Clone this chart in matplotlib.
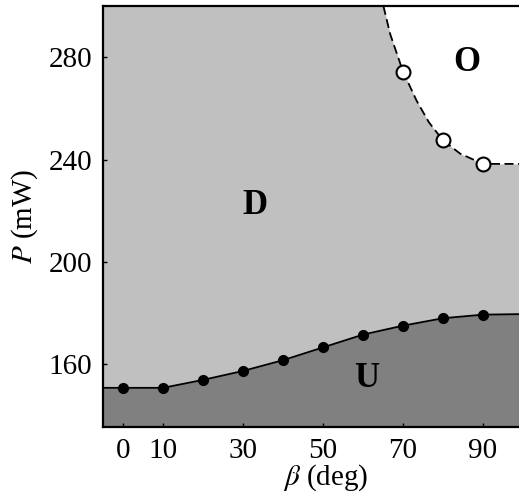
import matplotlib
matplotlib.use("Agg")
import matplotlib.pyplot as plt
import numpy as np

plt.rcParams['font.family'] = ['Liberation Serif', 'DejaVu Serif']
plt.rcParams['mathtext.fontset'] = 'stix'

# Unstable (U) threshold: filled markers
u_beta = [0, 10, 20, 30, 40, 50, 60, 70, 80, 90]
u_P = [150.8, 150.8, 153.9, 157.4, 161.6, 166.6, 171.6, 175.1, 178.0, 179.4]

# Oscillating (O) threshold: open markers
o_beta = [70, 80, 90]
o_P = [274.4, 247.5, 238.3]

# O/D boundary curve
ob_beta = [65.1, 66.8, 70.0, 73.4, 76.5, 80.0, 84.3, 90.0, 99.0]
ob_P = [300.0, 289.0, 274.4, 263.0, 254.5, 247.5, 242.3, 238.3, 238.3]

xticks = [0, 10, 30, 50, 70, 90]
yticks = [160, 200, 240, 280]
xlim = (-5, 99)
ylim = (135.5, 300)

c_D = '#c0c0c0'
c_U = '#808080'

fig = plt.figure(figsize=(5.19, 4.95), dpi=100)
ax = fig.add_axes([103/519, 1-427/495, 1-103/519, (427-6)/495])
ax.set_xlim(*xlim)
ax.set_ylim(*ylim)

ax.set_facecolor(c_D)
# U region
ub = [xlim[0]] + u_beta + [xlim[1]]
uP = [u_P[0]] + u_P + [u_P[-1] + 0.2]
ax.fill_between(ub, ylim[0], uP, color=c_U, lw=0, zorder=1)
ax.plot(ub, uP, color='black', lw=1.3, zorder=3)
ax.plot(u_beta, u_P, 'o', color='black', ms=7, zorder=4)

# O region
ax.fill_between(ob_beta, ob_P, ylim[1], color='white', lw=0, zorder=1)
ax.plot(ob_beta, ob_P, color='black', lw=1.3, ls=(0, (5, 2.5)), zorder=3)
ax.plot(o_beta, o_P, 'o', mfc='white', mec='black', mew=1.5, ms=10, zorder=4)

ax.text(33, 222, 'D', fontsize=25, fontweight='bold', ha='center', va='center', zorder=5)
ax.text(86, 278, 'O', fontsize=25, fontweight='bold', ha='center', va='center', zorder=5)
ax.text(61, 154.6, 'U', fontsize=25, fontweight='bold', ha='center', va='center', zorder=5)

ax.set_xticks(xticks)
ax.set_yticks(yticks)
ax.tick_params(direction='in', length=3, width=1, labelsize=21, pad=8)
for s in ['left', 'bottom', 'top']:
    ax.spines[s].set_linewidth(1.6)
ax.spines['right'].set_visible(False)

ax.set_xlabel(r'$\beta$ (deg)', fontsize=21)
ax.set_ylabel(r'$P$ (mW)', fontsize=21)
ax.xaxis.set_label_coords((326-103)/416, (427-462)/421)
ax.yaxis.set_label_coords((40-103)/416, 0.5)

fig.savefig('out.png', dpi=100)
